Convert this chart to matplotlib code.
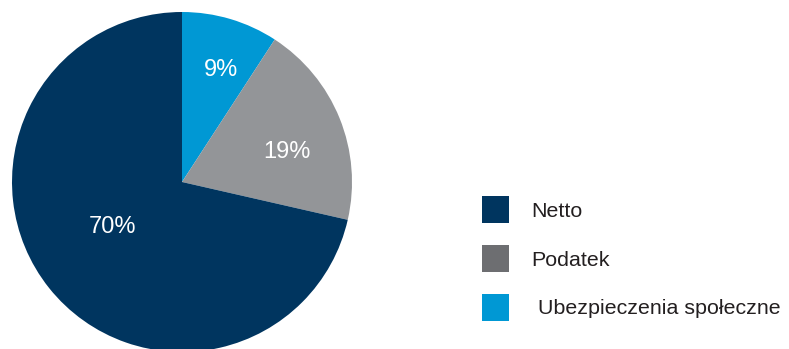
import matplotlib
matplotlib.use("Agg")
import matplotlib.pyplot as plt
from matplotlib.patches import Patch

plt.rcParams['font.family'] = ['Liberation Sans', 'DejaVu Sans']

# Wage split, clockwise from twelve o'clock
categories = ['Ubezpieczenia społeczne', 'Podatek', 'Netto']
shares = [9, 19, 70]
colors = ['#0098d4', '#939598', '#00355f']

# legend order and swatch colours
legend_labels = ['Netto', 'Podatek', ' Ubezpieczenia społeczne']
legend_colors = ['#00355f', '#6d6e71', '#0098d4']

# label placement in pie units (x, y) for each slice
label_pos = [(0.23, 0.66), (0.62, 0.175), (-0.41, -0.265)]

W, H = 789, 349
fig = plt.figure(figsize=(W / 100, H / 100), dpi=100)

cx, cy, r = 182, 182, 170
ax = fig.add_axes([(cx - r) / W, (H - cy - r) / H, 2 * r / W, 2 * r / H])
ax.pie(shares, colors=colors, startangle=90, counterclock=False,
       radius=1, wedgeprops=dict(linewidth=0))
ax.set_xlim(-1, 1)
ax.set_ylim(-1, 1)
ax.set_aspect('equal')
ax.axis('off')

for v, (x, y) in zip(shares, label_pos):
    ax.text(x, y, f'{v}%', color='white', fontsize=17, ha='center', va='center')

handles = [Patch(facecolor=c, edgecolor='none') for c in legend_colors]
fig.legend(handles, legend_labels, loc='upper left',
           bbox_to_anchor=(482 / W, 1 - 196 / H), frameon=False,
           fontsize=15.4, handlelength=1.27, handleheight=1.6,
           handletextpad=1.05, labelspacing=1.0, borderpad=0,
           borderaxespad=0, labelcolor='#231f20')

fig.savefig('out.png', dpi=100)
